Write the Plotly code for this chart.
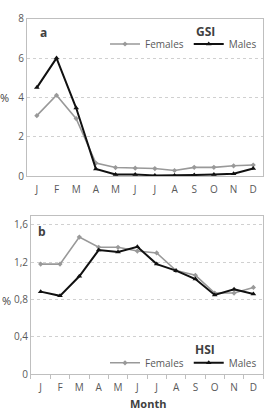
import plotly.graph_objects as go

months = ["J", "F", "M", "A", "M", "J", "J", "A", "S", "O", "N", "D"]
month_ids = list(range(12))

gsi_females = [3.07, 4.11, 2.92, 0.66, 0.43, 0.40, 0.38, 0.28, 0.44, 0.44, 0.52, 0.56]
gsi_males = [4.5, 6.0, 3.46, 0.36, 0.08, 0.08, 0.03, 0.03, 0.05, 0.08, 0.11, 0.38]

hsi_females = [1.18, 1.18, 1.47, 1.36, 1.36, 1.32, 1.30, 1.11, 1.06, 0.87, 0.87, 0.93]
hsi_males = [0.885, 0.84, 1.05, 1.33, 1.31, 1.365, 1.18, 1.11, 1.02, 0.85, 0.91, 0.86]

gsi_ticks = [0, 2, 4, 6, 8]
hsi_ticks = [0, 0.4, 0.8, 1.2, 1.6]
hsi_ticklabels = ["0", "0,4", "0,8", "1,2", "1,6"]
month_bounds = [i - 0.5 for i in range(13)]

FEM = "#999999"
MAL = "#111111"
TXT = "#595959"
FONT = "Open Sans"

fig = go.Figure()

def add(x, y, xa, ya, name, color, sym, size, width, legend):
    fig.add_trace(go.Scatter(
        x=x, y=y, xaxis=xa, yaxis=ya, name=name, mode="lines+markers",
        line=dict(color=color, width=width),
        marker=dict(symbol=sym, size=size, color=color),
        legend=legend, showlegend=True))

add(month_ids, gsi_females, "x", "y", "Females", FEM, "diamond", 4, 1.6, "legend")
add(month_ids, gsi_males, "x", "y", "Males", MAL, "triangle-up", 5, 2, "legend")
add(month_ids, hsi_females, "x2", "y2", "Females", FEM, "diamond", 4, 1.6, "legend2")
add(month_ids, hsi_males, "x2", "y2", "Males", MAL, "triangle-up", 5, 2, "legend2")

axis_common = dict(showline=True, linecolor="#bfbfbf", linewidth=1, mirror=True,
                   tickfont=dict(family=FONT, size=10, color=TXT))

fig.update_layout(
    width=266, height=414,
    margin=dict(l=0, r=0, t=0, b=0),
    paper_bgcolor="white", plot_bgcolor="white",
    font=dict(family=FONT, color=TXT),
    xaxis=dict(domain=[0.1015, 0.989], anchor="y", range=[-0.5, 11.5],
               tickmode="array", tickvals=month_ids, ticktext=months,
               showgrid=False, zeroline=False, ticks="outside", ticklen=4,
               tickcolor="rgba(0,0,0,0)", **axis_common),
    yaxis=dict(domain=[0.580, 0.973], anchor="x", range=[0, 8],
               tickmode="array", tickvals=gsi_ticks,
               showgrid=True, gridcolor="#d0d0d0", griddash="dot", gridwidth=1,
               zeroline=False, ticks="", **axis_common),
    xaxis2=dict(domain=[0.1165, 0.989], anchor="y2", range=[-0.5, 11.5],
                tickmode="array", tickvals=month_ids, ticktext=months,
                showgrid=False, zeroline=False, ticks="outside", ticklen=4,
                tickcolor="rgba(0,0,0,0)",
                minor=dict(tickmode="array", tickvals=month_bounds, ticks="outside",
                           ticklen=4, tickcolor="#bfbfbf", showgrid=False),
                **axis_common),
    yaxis2=dict(domain=[0.0845, 0.481], anchor="x2", range=[0, 1.7],
                tickmode="array", tickvals=hsi_ticks, ticktext=hsi_ticklabels,
                showgrid=True, gridcolor="#d0d0d0", griddash="dot", gridwidth=1,
                zeroline=False, ticks="", **axis_common),
    legend=dict(orientation="h", x=0.985, y=0.910, xanchor="right", yanchor="middle",
                font=dict(family=FONT, size=10, color=TXT), bgcolor="rgba(0,0,0,0)",
                itemwidth=30, tracegroupgap=0),
    legend2=dict(orientation="h", x=0.985, y=0.113, xanchor="right", yanchor="middle",
                 font=dict(family=FONT, size=10, color=TXT), bgcolor="rgba(0,0,0,0)",
                 itemwidth=30, tracegroupgap=0),
    showlegend=True,
)

ann = [
    dict(text="<b>a</b>", x=43/266, y=1-25/414, xanchor="center", size=12),
    dict(text="<b>GSI</b>", x=205/266, y=1-24/414, xanchor="center", size=12),
    dict(text="%", x=4/266, y=1-93/414, xanchor="center", size=11),
    dict(text="<b>b</b>", x=42/266, y=1-231/414, xanchor="center", size=12),
    dict(text="<b>HSI</b>", x=205/266, y=1-353/414, xanchor="center", size=12),
    dict(text="%", x=0, y=1-303/414, xanchor="left", size=11),
    dict(text="<b>Month</b>", x=148/266, y=1-409/414, xanchor="center", size=11),
]
for a in ann:
    size = a.pop("size")
    fig.add_annotation(xref="paper", yref="paper", showarrow=False,
                       yanchor="middle",
                       font=dict(family=FONT, size=size, color="#404040"), **a)

fig.write_html("out.html")
